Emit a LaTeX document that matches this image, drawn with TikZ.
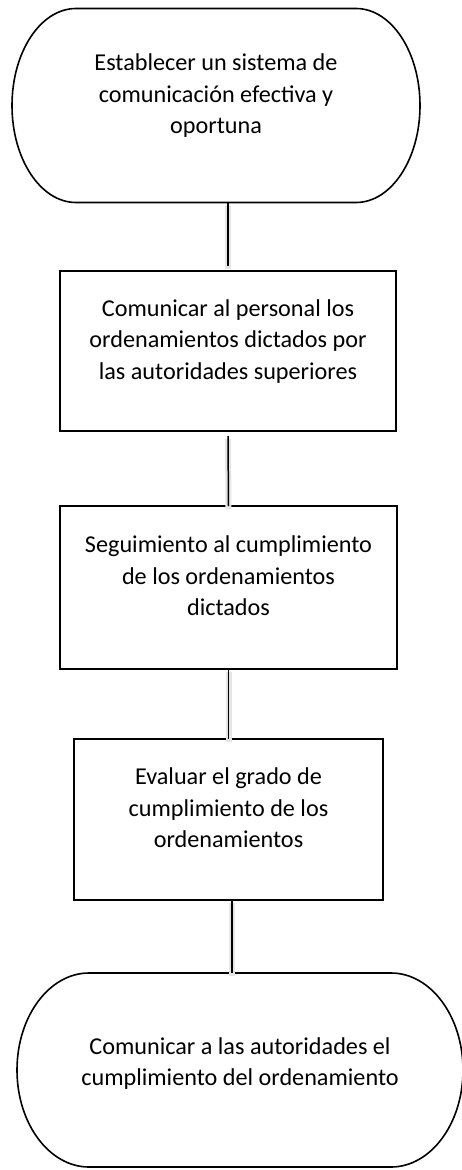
\documentclass[tikz,border=0pt]{standalone}
\usepackage{fontspec}
\setmainfont{Carlito}
\usepackage{tikz}
\usetikzlibrary{calc,positioning}

% outline of a terminal node: flat top and bottom, elliptical ends
\newcommand{\termoutline}[3]{%
  \draw[line width=1.6pt] ([xshift=#2]#1.north west) -- ([xshift=-#2]#1.north east)
    arc[start angle=90, end angle=-90, x radius=#2, y radius=#3]
    -- ([xshift=#2]#1.south west)
    arc[start angle=270, end angle=90, x radius=#2, y radius=#3] -- cycle;
}

\begin{document}
\begin{tikzpicture}[x=1pt, y=-1pt,
  txt/.style={align=center, font=\fontsize{24.2}{31.5}\selectfont, inner sep=0pt, outer sep=0pt},
  stepbox/.style={txt, draw, line width=1.6pt},
  link/.style={line width=1.5pt, preaction={draw=black!10, line width=6pt, transform canvas={yshift=-3pt}}}]
  \useasboundingbox (0,0) rectangle (461,1170);

  % Start
  \node[txt, minimum width=408pt, minimum height=194pt, text depth=23pt] (start) at (216,105.5)
    {Establecer un sistema de\\comunicación efectiva y\\oportuna};
  \termoutline{start}{64pt}{97pt}

  % Steps
  \node[stepbox, minimum width=336pt, minimum height=160pt, text depth=23pt] (personal) at (228,351)
    {Comunicar al personal los\\ordenamientos dictados por\\las autoridades superiores};
  \node[stepbox, minimum width=337pt, minimum height=163pt, text depth=23pt] (seguim) at (228.5,587.5)
    {Seguimiento al cumplimiento\\de los ordenamientos\\dictados};
  \node[stepbox, minimum width=309pt, minimum height=161pt, text depth=23pt] (evaluar) at (228.5,819.5)
    {Evaluar el grado de\\cumplimiento de los\\ordenamientos};

  % End
  \node[txt, minimum width=446pt, minimum height=194pt, text depth=17pt] (fin) at (240,1070)
    {Comunicar a las autoridades el\\cumplimiento del ordenamiento};
  \termoutline{fin}{72pt}{97pt}

  % Links
  \draw[link] (start.south -| personal.north) -- ([yshift=5pt]personal.north);
  \draw[link] ([yshift=-5pt]personal.south) -- (seguim.north);
  \draw[link] (seguim.south) -- (evaluar.north);
  \draw[link] ([xshift=3.5pt]evaluar.south) -- ([xshift=3.5pt]evaluar.south |- fin.north);
\end{tikzpicture}
\end{document}
